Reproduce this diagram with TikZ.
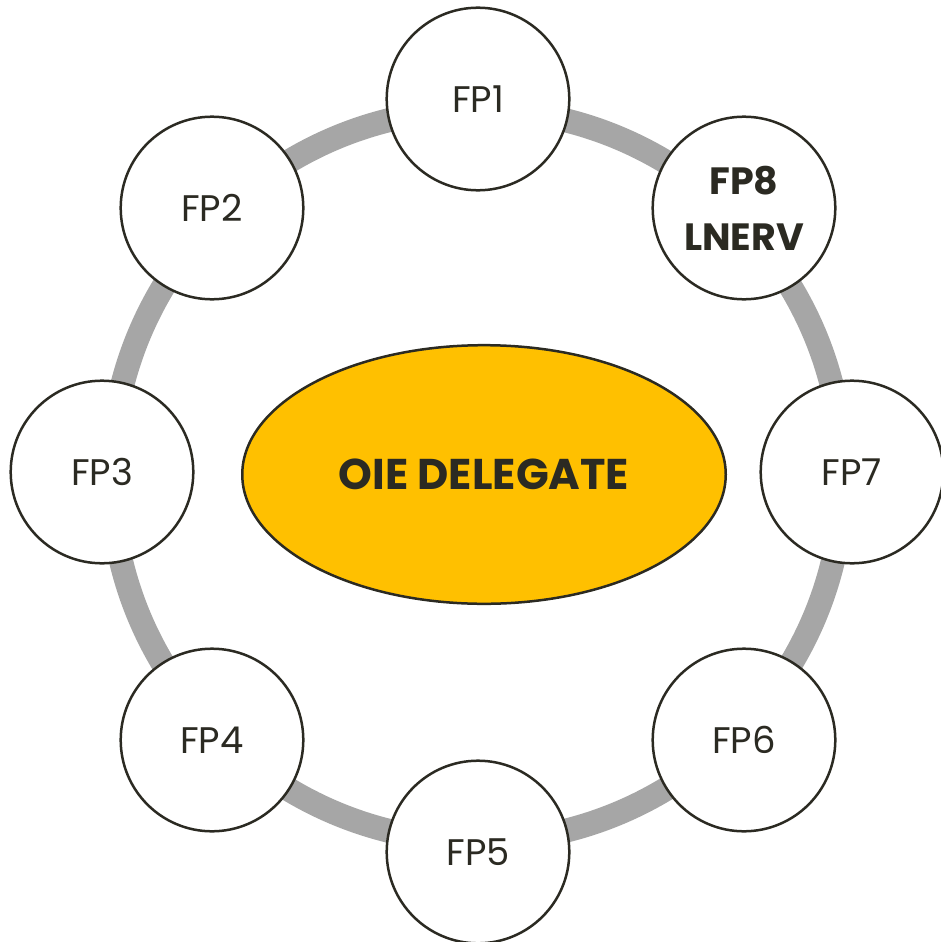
\documentclass[tikz,border=0pt]{standalone}
\usepackage{fontspec}
\setmainfont{Poppins}
\usetikzlibrary{shapes.geometric}
\definecolor{ringgray}{HTML}{A6A6A6}
\definecolor{inkdark}{HTML}{2B2A22}
\definecolor{gold}{HTML}{FFC000}
\tikzset{
  fpnode/.style={circle, draw=inkdark, line width=2.5pt, fill=white, minimum size=182.6pt, inner sep=0pt, text=inkdark, font=\fontsize{37}{44}\selectfont, align=center},
  fpbold/.style={fpnode, font=\fontsize{38}{56}\selectfont\bfseries},
  centre/.style={ellipse, draw=inkdark, line width=2.5pt, fill=gold, minimum width=483.5pt, minimum height=258.6pt, inner sep=0pt, text=inkdark, font=\fontsize{43}{50}\selectfont\bfseries}
}
\begin{document}
\begin{tikzpicture}[x=1pt,y=-1pt]
\useasboundingbox (0,0) rectangle (940,942);
\coordinate (c) at (477,475.5);
\draw[ringgray, line width=24pt] (c) circle[radius=366];
\node[fpnode] (fp1) at (478,99) {FP1};
\node[fpnode] (fp2) at (212,208) {FP2};
\node[fpnode] (fp3) at (102,472) {FP3};
\node[fpnode] (fp4) at (212,740) {FP4};
\node[fpnode] (fp5) at (478,852) {FP5};
\node[fpnode] (fp6) at (744,740) {FP6};
\node[fpnode] (fp7) at (852,472) {FP7};
\node[fpbold] (fp8) at (744,208) {FP8\\LNERV};
\node[centre] (oie) at (484,474.5) {OIE DELEGATE};
\end{tikzpicture}
\end{document}
